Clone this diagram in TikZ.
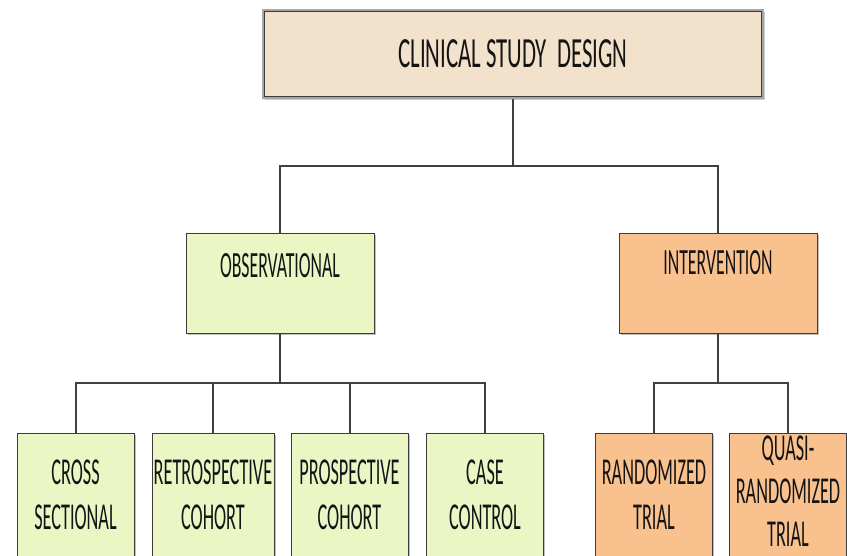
\documentclass[tikz,border=0pt]{standalone}
\usepackage{fontspec}
\newfontfamily\boxfont[FakeStretch=0.48]{Carlito}
\newfontfamily\titlefont[FakeStretch=0.53]{Carlito}
\usetikzlibrary{shadows,calc}
\definecolor{titlefill}{HTML}{F3E2CB}
\definecolor{greenfill}{HTML}{EAF7C5}
\definecolor{orangefill}{HTML}{F9C18E}
\definecolor{boxline}{HTML}{3C3C3C}
\definecolor{linegray}{HTML}{404040}
\definecolor{txt}{HTML}{141414}
\begin{document}
\begin{tikzpicture}[x=1pt,y=-1pt,
  conn/.style={draw=linegray,line width=2pt},
  shad/.style={drop shadow={shadow xshift=1.5pt,shadow yshift=-1.5pt,opacity=0.25,fill=black}},
  leafbox/.style={draw=boxline,line width=1pt,minimum width=117pt,minimum height=124pt,
    inner sep=0pt,align=center,text=txt,shad,
    font=\boxfont\fontsize{38}{45}\selectfont},
  midbox/.style={draw=boxline,line width=1pt,minimum width=188pt,inner sep=0pt,
    text=txt,shad,font=\boxfont\fontsize{37}{44}\selectfont},
  titlebox/.style={draw=gray!70,line width=2.6pt,fill=titlefill,minimum width=500pt,
    minimum height=88pt,inner sep=0pt,text=txt,
    drop shadow={shadow xshift=2pt,shadow yshift=-2pt,opacity=0.2,fill=black},
    font=\titlefont\fontsize{43}{50}\selectfont}]
\useasboundingbox[fill=white] (0,0) rectangle (847,555);

% title
\node[titlebox] (title) at (513,54) {CLINICAL STUDY\ \ DESIGN};
\draw[boxline,line width=1.1pt] ($(title.south west)+(2.4,-2.4)$) rectangle ($(title.north east)+(-2.4,2.4)$);

% middle level
\node[midbox,fill=greenfill,text height=44pt,text depth=56pt] (obs) at (280,283) {OBSERVATIONAL};
\node[midbox,fill=orangefill,minimum width=198pt,text height=41pt,text depth=59pt] (int) at (718,283) {INTERVENTION};

% leaves
\node[leafbox,fill=greenfill] (cross) at (75.5,495) {CROSS\\SECTIONAL};
\node[leafbox,fill=greenfill,minimum width=122pt] (retro) at (213,495) {RETROSPECTIVE\\COHORT};
\node[leafbox,fill=greenfill] (prosp) at (349.5,495) {PROSPECTIVE\\COHORT};
\node[leafbox,fill=greenfill] (case) at (485,495) {CASE\\CONTROL};
\node[leafbox,fill=orangefill] (rand) at (654,495) {RANDOMIZED\\TRIAL};
\node[leafbox,fill=orangefill,font=\boxfont\fontsize{38}{43}\selectfont] (quasi) at (788,495)
  {\raisebox{-6pt}[0pt][0pt]{\begin{tabular}{@{}c@{}}QUASI-\\RANDOMIZED\\TRIAL\end{tabular}}};

% junction coordinates
\coordinate (j1) at (513,166);
\coordinate (j2) at (280,383);
\coordinate (j3) at (718,383);

% connectors
\draw[conn] (title.south) -- (j1);
\draw[conn] (obs.north) -- (obs.north |- j1) -- (int.north |- j1) -- (int.north);
\draw[conn] (obs.south) -- (j2);
\draw[conn] (cross.north) -- (cross.north |- j2) -- (case.north |- j2) -- (case.north);
\draw[conn] (retro.north) -- (retro.north |- j2);
\draw[conn] (prosp.north) -- (prosp.north |- j2);
\draw[conn] (int.south) -- (j3);
\draw[conn] (rand.north) -- (rand.north |- j3) -- (quasi.north |- j3) -- (quasi.north);
\end{tikzpicture}
\end{document}
